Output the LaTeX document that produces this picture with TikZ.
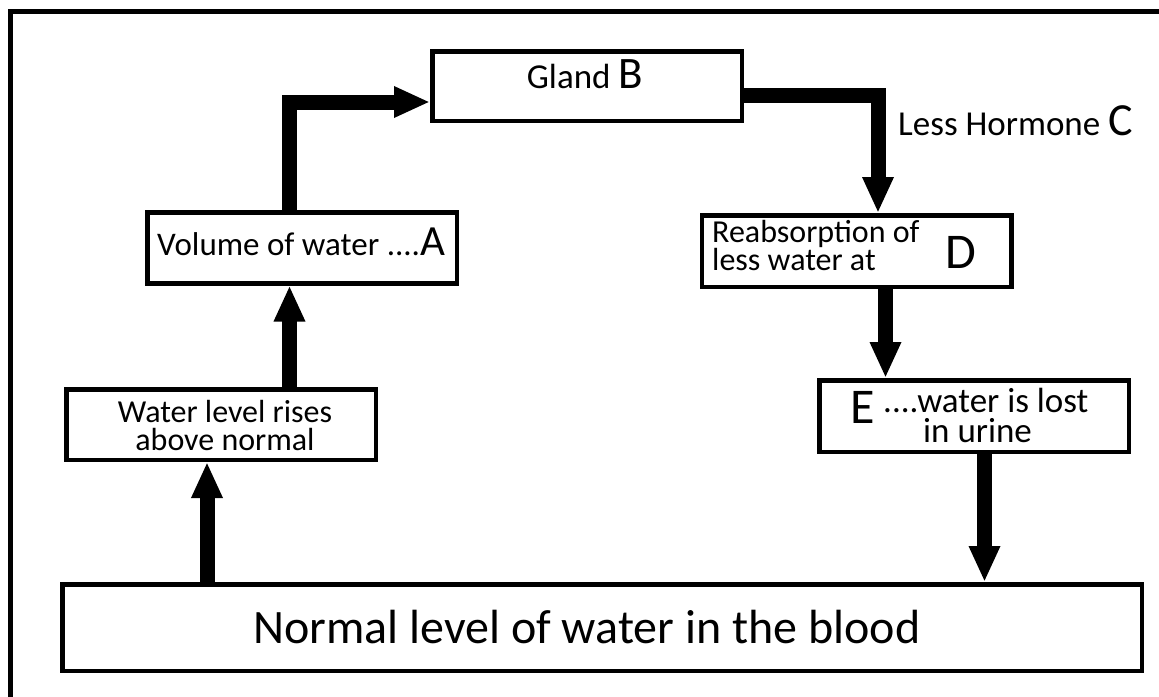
\documentclass[tikz,border=0pt]{standalone}
\usepackage{fontspec}
\setmainfont{Carlito}
\usetikzlibrary{arrows.meta}
\newcommand\fsz[1]{\fontsize{#1}{#1}\selectfont}
\begin{document}
\begin{tikzpicture}[x=1pt,y=-1pt,
    box/.style={draw,line width=4.5pt,inner sep=0pt,minimum width=309.5pt,minimum height=71pt},
    txt/.style={inner sep=0pt,anchor=base west},
    flow/.style={line width=15pt,-{Triangle[width=29pt,length=36pt]}}]
  \useasboundingbox (0,0) rectangle (1159,696);
  \clip (0,0) rectangle (1159,696);
  \draw[line width=5pt] (10.5,720) -- (10.5,11.7) -- (1180,11.7);
  \draw
    (587,86) node[box,minimum height=69.5pt] (gland){}
    (302.3,247.8) node[box] (volume){}
    (221,424.5) node[box,minimum height=70.5pt] (rises){}
    (856.5,251) node[box,minimum height=71.5pt] (reab){}
    (974.3,416) node[box,minimum height=71.5pt] (lost){}
    (602,627.5) node[box,minimum width=1079.5pt,minimum height=86.5pt] (normal){};
  \draw
    (526.7,88) node[txt] (glandtxt){\fsz{35}Gland \fsz{45}B}
    (157,255) node[txt] (volumetxt){\fsz{33}Volume of water ....\fsz{43}A}
    (225,450) node[txt,anchor=base,align=center,font=\fontsize{32}{28}\selectfont]
      (risestxt){Water level rises\\above normal}
    (898,135) node[txt] (hormone){\fsz{35}Less Hormone \fsz{46}C}
    (712,270.7) node[txt,align=left,font=\fontsize{32}{28}\selectfont]
      (reabtxt){Reabsorption of\\less water at}
    (945,268) node[txt] (reabD){\fsz{50}D}
    (850,423) node[txt] (lostE){\fsz{50}E}
    (883,442.7) node[txt,align=left,font=\fontsize{35}{30}\selectfont]
      (losttxt){....water is lost\\\hspace*{40pt}in urine}
    (253,643) node[txt] (normaltxt){\fsz{48}Normal level of water in the blood};
  \coordinate (c1) at (207,0);
  \coordinate (c2) at (289.5,0);
  \coordinate (c3) at (878,0);
  \coordinate (c4) at (885.5,0);
  \coordinate (c5) at (984.5,0);
  \coordinate (r1) at (0,102);
  \coordinate (r2) at (0,95);
  \begin{scope}[flow]
    \draw (normal.north -| c1) -- (rises.south -| c1);
    \draw (rises.north -| c2) -- (volume.south -| c2);
    \draw (volume.north -| c2) |- (gland.west |- r1);
    \draw (gland.east |- r2) -| (reab.north -| c3);
    \draw (reab.south -| c4) -- (lost.north -| c4);
    \draw (lost.south -| c5) -- (normal.north -| c5);
  \end{scope}
\end{tikzpicture}
\end{document}
